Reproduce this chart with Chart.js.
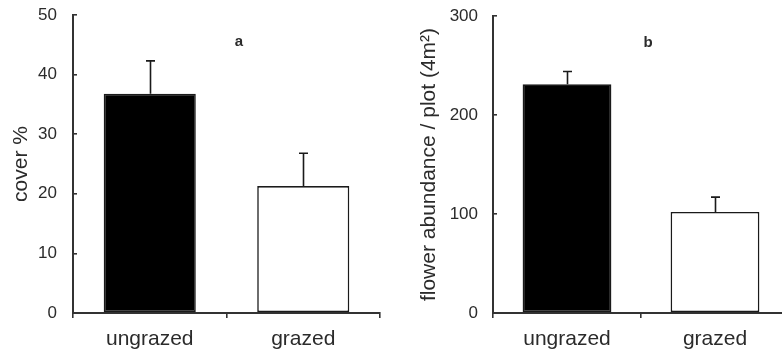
<!DOCTYPE html>
<html>
<head>
<meta charset="utf-8">
<script src="https://cdn.jsdelivr.net/npm/chart.js"></script>
<style>
  html, body { margin: 0; padding: 0; background: #fff; overflow: hidden; width: 782px; height: 355px; }
  canvas { position: absolute; top: 0; }
  #coverChart { left: 0; }
  #flowerChart { left: 390px; }
</style>
</head>
<body>
<canvas id="coverChart" width="390" height="355"></canvas>
<canvas id="flowerChart" width="410" height="355"></canvas>
<script>
// Données
const categories = ['ungrazed', 'grazed'];
const coverMeans = [36.8, 21.3];
const coverErrors = [42.3, 26.8];   // haut des barres d'erreur
const flowerMeans = [231, 102];
const flowerErrors = [244, 117];
const barColors = ['#000000', '#ffffff'];

const inkColor = '#2b2b2b';

// Plugin : barres d'erreur (vers le haut) + lettre du panneau
const errorBarsPlugin = {
    id: 'errorBars',
    afterDatasetsDraw(chart, args, opts) {
        const ctx = chart.ctx;
        const yScale = chart.scales.y;
        const meta = chart.getDatasetMeta(0);
        ctx.save();
        ctx.strokeStyle = '#1a1a1a';
        ctx.lineWidth = 1.6;
        meta.data.forEach((bar, i) => {
            const x = Math.round(bar.x) + 0.5;
            const yTop = yScale.getPixelForValue(opts.tops[i]);
            ctx.beginPath();
            ctx.moveTo(x, bar.y);
            ctx.lineTo(x, yTop);
            ctx.moveTo(x - 4.5, yTop);
            ctx.lineTo(x + 4.5, yTop);
            ctx.stroke();
        });
        // lettre du panneau
        const area = chart.chartArea;
        ctx.fillStyle = inkColor;
        ctx.font = 'bold 15px "Liberation Sans", Arial, sans-serif';
        ctx.textAlign = 'center';
        ctx.textBaseline = 'alphabetic';
        ctx.fillText(opts.letter, area.left + opts.letterX, area.top + 31);
        ctx.restore();
    }
};

function makeChart(id, means, tops, letter, letterX, yMax, yStep, yTitle, titlePad, tickPad, yWidth, padTop, padRight) {
    const ctx = document.getElementById(id).getContext('2d');
    return new Chart(ctx, {
        type: 'bar',
        data: {
            labels: categories,
            datasets: [{
                data: means,
                backgroundColor: barColors,
                borderColor: '#1a1a1a',
                borderWidth: 1.6,
                borderSkipped: false,
                barPercentage: 0.6,
                categoryPercentage: 1.0
            }]
        },
        options: {
            responsive: false,
            animation: false,
            layout: { padding: { top: padTop, right: padRight, left: 0, bottom: 0 } },
            plugins: {
                legend: { display: false },
                tooltip: { enabled: false },
                errorBars: { tops: tops, letter: letter, letterX: letterX }
            },
            scales: {
                x: {
                    offset: true,
                    grid: {
                        offset: true,
                        drawOnChartArea: false,
                        drawTicks: true,
                        tickLength: 5,
                        color: '#333',
                        lineWidth: 1.6
                    },
                    border: { display: true, color: '#333', width: 2 },
                    ticks: {
                        color: inkColor,
                        padding: 9,
                        font: { family: '"Liberation Sans", Arial, sans-serif', size: 21 }
                    },
                    afterFit(scale) { scale.height = 42; }
                },
                y: {
                    min: 0,
                    max: yMax,
                    ticks: {
                        stepSize: yStep,
                        color: inkColor,
                        padding: tickPad,
                        font: { family: '"Liberation Sans", Arial, sans-serif', size: 17 }
                    },
                    grid: {
                        drawOnChartArea: false,
                        drawTicks: true,
                        tickLength: -4,
                        color: '#333',
                        lineWidth: 1.6
                    },
                    border: { display: true, color: '#333', width: 2 },
                    title: {
                        display: true,
                        text: yTitle,
                        color: inkColor,
                        padding: { top: titlePad, bottom: 0 },
                        font: { family: '"Liberation Sans", Arial, sans-serif', size: 21 }
                    },
                    afterFit(scale) {
                        scale.width = yWidth;
                        scale.paddingTop = 10;
                        scale.paddingBottom = 10;
                    }
                }
            }
        },
        plugins: [errorBarsPlugin]
    });
}

makeChart('coverChart', coverMeans, coverErrors, 'a', 166, 50, 10, 'cover %', 9, 20, 73, 15, 10);
makeChart('flowerChart', flowerMeans, flowerErrors, 'b', 155, 300, 100, 'flower abundance / plot (4m\u00B2)', 27, 19, 103, 16, 11);
</script>
</body>
</html>
